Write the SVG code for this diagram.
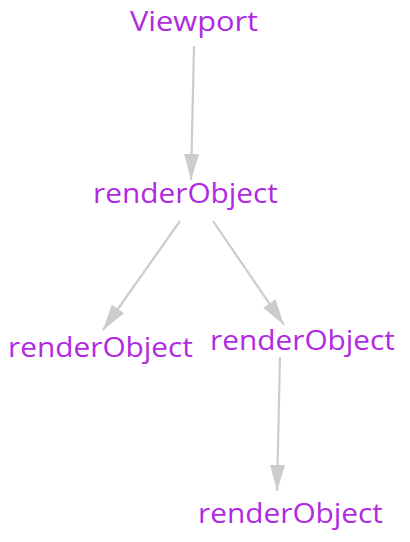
<svg xmlns="http://www.w3.org/2000/svg" width="410" height="542" viewBox="0 0 410 542">
<style>
.lbl{font-family:"Open Sans","Noto Sans","DejaVu Sans",sans-serif;font-size:27px;fill:#b02ae2;text-anchor:middle}
.edge{stroke:#cccccc;stroke-width:2.2;fill:none;marker-end:url(#ah)}
</style>
<defs>
<marker id="ah" markerUnits="userSpaceOnUse" markerWidth="28" markerHeight="16" refX="26" refY="7.5" orient="auto">
<path d="M0,0 L26,7.5 L0,15 Z" fill="#cccccc"/>
</marker>
</defs>
<rect width="410" height="542" fill="#ffffff"/>
<g id="connectors">
<path class="edge" d="M194,46 L191,180"/>
<path class="edge" d="M180,221 L103,330"/>
<path class="edge" d="M213,221 L284,325"/>
<path class="edge" d="M280,357 L277,491"/>
</g>
<g id="viewport"><text class="lbl" x="194" y="31" textLength="128" lengthAdjust="spacingAndGlyphs">Viewport</text></g>
<g id="renderObject1"><text class="lbl" x="185.5" y="203" textLength="185" lengthAdjust="spacingAndGlyphs">renderObject</text></g>
<g id="renderObject2"><text class="lbl" x="100.5" y="357" textLength="185" lengthAdjust="spacingAndGlyphs">renderObject</text></g>
<g id="renderObject3"><text class="lbl" x="302.5" y="350" textLength="185" lengthAdjust="spacingAndGlyphs">renderObject</text></g>
<g id="renderObject4"><text class="lbl" x="290.5" y="523" textLength="185" lengthAdjust="spacingAndGlyphs">renderObject</text></g>
</svg>
